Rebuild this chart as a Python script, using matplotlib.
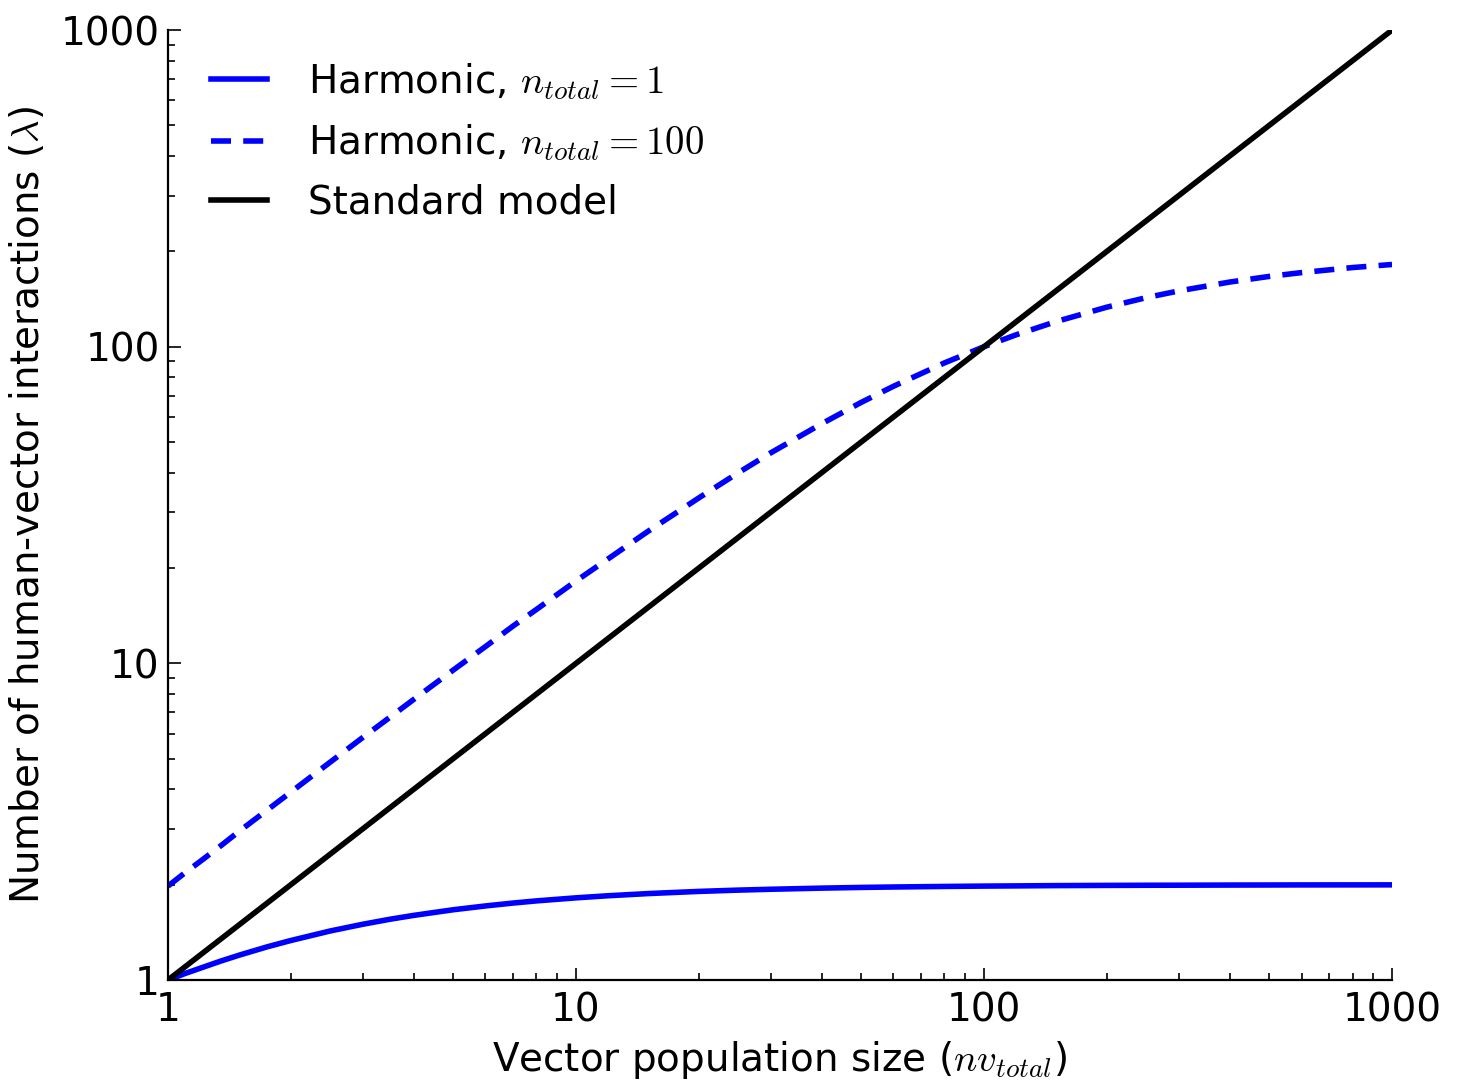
import matplotlib
matplotlib.use("Agg")
import matplotlib.pyplot as plt
from matplotlib.ticker import FixedLocator, FixedFormatter, LogLocator, NullFormatter

# values (log-log axes)
nv_total = [1, 1.1, 1.2, 1.35, 1.5, 1.75, 2, 2.5, 3, 3.5, 4, 5, 6, 7, 8, 10, 12, 15,
            20, 25, 30, 40, 50, 60, 80, 100, 120, 150, 200, 250, 300, 400, 500,
            600, 800, 1000]
harmonic_n1 = [1.0, 1.048, 1.09, 1.149, 1.2, 1.273, 1.333, 1.429, 1.5, 1.556, 1.6,
               1.667, 1.714, 1.75, 1.778, 1.818, 1.846, 1.875, 1.905, 1.923, 1.935,
               1.951, 1.961, 1.967, 1.975, 1.98, 1.983, 1.987, 1.99, 1.992, 1.993,
               1.995, 1.996, 1.997, 1.9975, 1.998]
harmonic_n100 = [1.98, 2.18, 2.37, 2.66, 2.96, 3.44, 3.92, 4.88, 5.83, 6.76, 7.69,
                 9.52, 11.3, 13.1, 14.8, 18.2, 21.4, 26.1, 33.3, 40.0, 46.2, 57.1,
                 66.7, 75.0, 88.9, 100.0, 109.1, 120.0, 133.3, 142.9, 150.0, 160.0,
                 166.7, 171.4, 177.8, 181.8]
standard = [1, 1.1, 1.2, 1.35, 1.5, 1.75, 2, 2.5, 3, 3.5, 4, 5, 6, 7, 8, 10, 12, 15,
            20, 25, 30, 40, 50, 60, 80, 100, 120, 150, 200, 250, 300, 400, 500,
            600, 800, 1000]

major_ticks = [1, 10, 100, 1000]
tick_labels = ["1", "10", "100", "1000"]

plt.rcParams["mathtext.fontset"] = "cm"
plt.rcParams["font.family"] = ["DejaVu Sans"]

fig = plt.figure(figsize=(14.63, 10.84), dpi=100)
ax = fig.add_axes([0.1148, 0.0959, 0.8367, 0.8764])

lw = 4.0
ax.plot(nv_total, harmonic_n1, color="#0000ff", lw=lw, label=r"Harmonic, $n_{total}{=}1$")
ax.plot(nv_total, harmonic_n100, color="#0000ff", lw=lw, dashes=(3.6, 2.2),
        label=r"Harmonic, $n_{total}{=}100$")
ax.plot(nv_total, standard, color="black", lw=lw, label="Standard model")

ax.set_xscale("log")
ax.set_yscale("log")
ax.set_xlim(1, 1000)
ax.set_ylim(1, 1000)

for axis in (ax.xaxis, ax.yaxis):
    axis.set_major_locator(FixedLocator(major_ticks))
    axis.set_major_formatter(FixedFormatter(tick_labels))
    axis.set_minor_locator(LogLocator(base=10, subs=range(2, 10)))
    axis.set_minor_formatter(NullFormatter())

ax.spines["top"].set_visible(False)
ax.spines["right"].set_visible(False)
ax.spines["left"].set_linewidth(1.6)
ax.spines["bottom"].set_linewidth(1.6)

ax.tick_params(which="both", direction="in", top=False, right=False, width=1.2)
ax.tick_params(which="major", length=9)
ax.tick_params(which="minor", length=5)
ax.tick_params(axis="x", which="major", labelsize=28, pad=8)
ax.tick_params(axis="y", which="major", labelsize=28, pad=6)

ax.set_xlabel(r"Vector population size ($nv_{total}$)", fontsize=28, labelpad=7)
ax.set_ylabel(r"Number of human-vector interactions ($\lambda$)", fontsize=28, labelpad=10)

ax.legend(loc="upper left", frameon=False, fontsize=28, handlelength=1.45,
          handletextpad=1.05, labelspacing=0.53, borderaxespad=0.35,
          bbox_to_anchor=(0.011, 0.998))

fig.savefig("out.png", dpi=100)
